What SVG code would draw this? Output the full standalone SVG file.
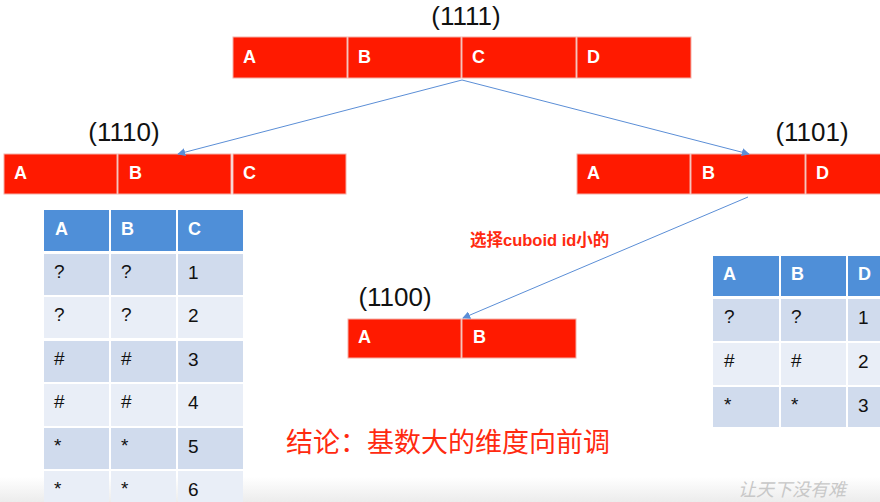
<svg xmlns="http://www.w3.org/2000/svg" width="880" height="502" viewBox="0 0 880 502">
<defs>
<marker id="ah" viewBox="0 0 10 10" refX="9" refY="5" markerWidth="8" markerHeight="8" orient="auto" markerUnits="userSpaceOnUse"><path d="M0,0 L10,5 L0,10 z" fill="#5b8ed6"/></marker>
<linearGradient id="bg" x1="0" y1="0" x2="0" y2="1"><stop offset="0" stop-color="#ffffff"/><stop offset="0.95" stop-color="#ffffff"/><stop offset="1" stop-color="#ececec"/></linearGradient>
</defs>
<style>
.cell{fill:#ff1a00;stroke:#f4b0a8;stroke-width:1}
.ct{font-family:"Liberation Sans",Arial,sans-serif;font-size:18px;font-weight:bold;fill:#fff}
.lbl{font-family:"Liberation Sans",Arial,sans-serif;font-size:26px;fill:#111}
.th{fill:#4f8fd8}
.rd{fill:#d0dbed}
.rl{fill:#e9eef7}
.tt{font-family:"Liberation Sans",Arial,sans-serif;font-size:19px;fill:#111}
.conn{stroke:#5b8ed6;stroke-width:1;fill:none;marker-end:url(#ah)}
</style>
<rect x="0" y="0" width="880" height="502" fill="url(#bg)"/>

<g id="c1111">
<text class="lbl" x="466" y="25" text-anchor="middle">(1111)</text>
<rect class="cell" x="233" y="37" width="114" height="41"/>
<rect class="cell" x="348" y="37" width="113" height="41"/>
<rect class="cell" x="462" y="37" width="114" height="41"/>
<rect class="cell" x="577" y="37" width="114" height="41"/>
<text class="ct" x="243" y="63">A</text>
<text class="ct" x="358" y="63">B</text>
<text class="ct" x="472" y="63">C</text>
<text class="ct" x="587" y="63">D</text>
</g>

<g id="c1110">
<text class="lbl" x="124" y="141" text-anchor="middle">(1110)</text>
<rect class="cell" x="4" y="154" width="113" height="40"/>
<rect class="cell" x="118" y="154" width="113" height="40"/>
<rect class="cell" x="233" y="154" width="113" height="40"/>
<text class="ct" x="14" y="179">A</text>
<text class="ct" x="129" y="179">B</text>
<text class="ct" x="243" y="179">C</text>
</g>

<g id="c1101">
<text class="lbl" x="812" y="141" text-anchor="middle">(1101)</text>
<rect class="cell" x="577" y="154" width="113" height="40"/>
<rect class="cell" x="691" y="154" width="114" height="40"/>
<rect class="cell" x="806" y="154" width="80" height="40"/>
<text class="ct" x="587" y="179">A</text>
<text class="ct" x="702" y="179">B</text>
<text class="ct" x="816" y="179">D</text>
</g>

<g id="c1100">
<text class="lbl" x="395" y="306" text-anchor="middle">(1100)</text>
<rect class="cell" x="348" y="319" width="113" height="39"/>
<rect class="cell" x="462" y="319" width="114" height="39"/>
<text class="ct" x="358" y="343">A</text>
<text class="ct" x="473" y="343">B</text>
</g>

<g id="connectors">
<line class="conn" x1="462" y1="80" x2="178" y2="154"/>
<line class="conn" x1="462" y1="80" x2="749" y2="154"/>
<line class="conn" x1="748" y1="197" x2="463" y2="318"/>
</g>

<g id="note">
<text x="470" y="246" font-family="'Liberation Sans','Noto Sans CJK SC',sans-serif" font-size="16.5" font-weight="bold" fill="#ff2a10">选择cuboid id小的</text>
</g>

<g id="tableABC">
<rect class="th" x="44" y="210" width="65" height="41"/>
<rect class="th" x="111" y="210" width="65" height="41"/>
<rect class="th" x="178" y="210" width="65" height="41"/>
<text class="ct" x="55" y="235">A</text>
<text class="ct" x="121" y="235">B</text>
<text class="ct" x="188" y="235">C</text>
<g>
<rect class="rd" x="44" y="254" width="65" height="41"/><rect class="rd" x="111" y="254" width="65" height="41"/><rect class="rd" x="178" y="254" width="65" height="41"/>
<rect class="rl" x="44" y="297" width="65" height="41"/><rect class="rl" x="111" y="297" width="65" height="41"/><rect class="rl" x="178" y="297" width="65" height="41"/>
<rect class="rd" x="44" y="341" width="65" height="41"/><rect class="rd" x="111" y="341" width="65" height="41"/><rect class="rd" x="178" y="341" width="65" height="41"/>
<rect class="rl" x="44" y="384" width="65" height="42"/><rect class="rl" x="111" y="384" width="65" height="42"/><rect class="rl" x="178" y="384" width="65" height="42"/>
<rect class="rd" x="44" y="428" width="65" height="41"/><rect class="rd" x="111" y="428" width="65" height="41"/><rect class="rd" x="178" y="428" width="65" height="41"/>
<rect class="rl" x="44" y="471" width="65" height="31"/><rect class="rl" x="111" y="471" width="65" height="31"/><rect class="rl" x="178" y="471" width="65" height="31"/>
</g>
<text class="tt" x="54" y="278">?</text><text class="tt" x="121" y="278">?</text><text class="tt" x="188" y="279">1</text>
<text class="tt" x="54" y="321">?</text><text class="tt" x="121" y="321">?</text><text class="tt" x="188" y="322">2</text>
<text class="tt" x="54" y="365">#</text><text class="tt" x="121" y="365">#</text><text class="tt" x="188" y="366">3</text>
<text class="tt" x="54" y="408">#</text><text class="tt" x="121" y="408">#</text><text class="tt" x="188" y="409">4</text>
<text class="tt" x="54" y="452">*</text><text class="tt" x="121" y="452">*</text><text class="tt" x="188" y="453">5</text>
<text class="tt" x="54" y="495">*</text><text class="tt" x="121" y="495">*</text><text class="tt" x="188" y="496">6</text>
</g>

<g id="tableABD">
<rect class="th" x="713" y="256" width="66" height="40"/>
<rect class="th" x="781" y="256" width="65" height="40"/>
<rect class="th" x="848" y="256" width="40" height="40"/>
<text class="ct" x="723" y="280">A</text>
<text class="ct" x="791" y="280">B</text>
<text class="ct" x="858" y="280">D</text>
<rect class="rd" x="713" y="299" width="66" height="42"/><rect class="rd" x="781" y="299" width="65" height="42"/><rect class="rd" x="848" y="299" width="40" height="42"/>
<rect class="rl" x="713" y="343" width="66" height="42"/><rect class="rl" x="781" y="343" width="65" height="42"/><rect class="rl" x="848" y="343" width="40" height="42"/>
<rect class="rd" x="713" y="387" width="66" height="40"/><rect class="rd" x="781" y="387" width="65" height="40"/><rect class="rd" x="848" y="387" width="40" height="40"/>
<text class="tt" x="724" y="323">?</text><text class="tt" x="791" y="323">?</text><text class="tt" x="858" y="324">1</text>
<text class="tt" x="724" y="367">#</text><text class="tt" x="791" y="367">#</text><text class="tt" x="858" y="368">2</text>
<text class="tt" x="724" y="411">*</text><text class="tt" x="791" y="411">*</text><text class="tt" x="858" y="412">3</text>
</g>

<g id="conclusion">
<text x="286" y="452" font-family="'Noto Sans CJK SC',sans-serif" font-size="27" fill="#ff2a10">结论：基数大的维度向前调</text>
</g>

<text x="738" y="496" font-family="'Noto Sans CJK SC',sans-serif" font-size="18" font-style="italic" fill="#c8c8c8">让天下没有难</text>
</svg>
